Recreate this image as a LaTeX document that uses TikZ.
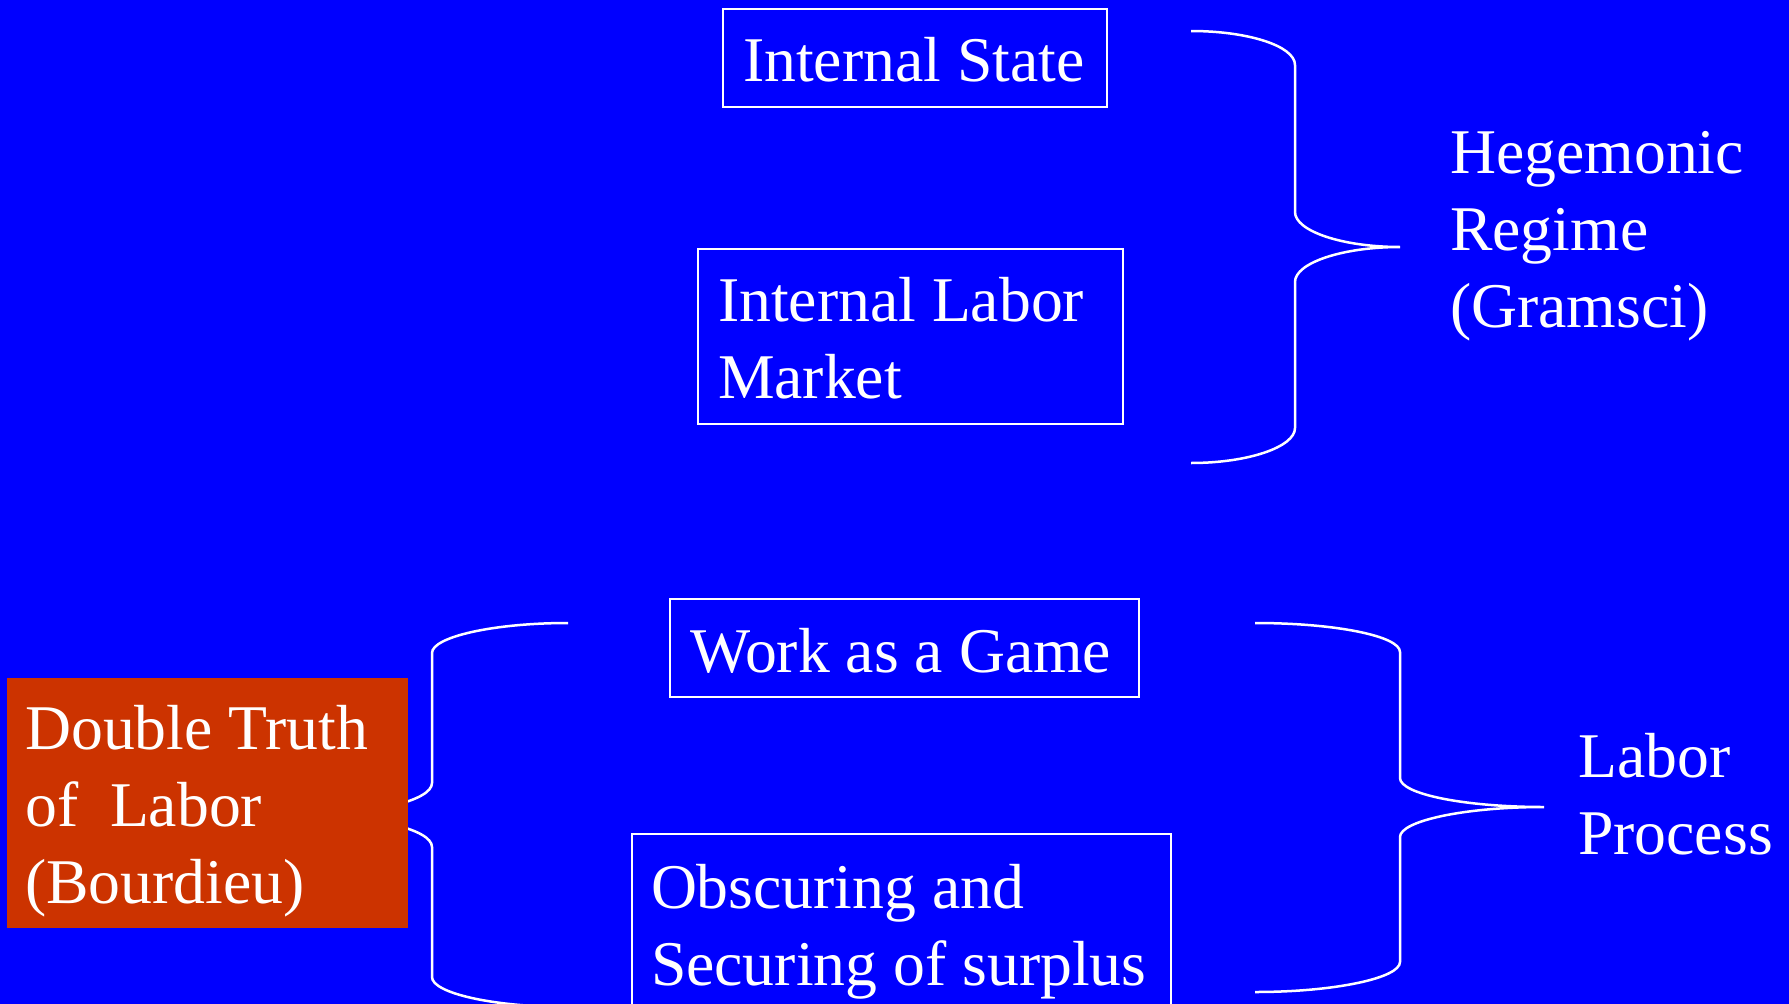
\documentclass[tikz,border=0pt]{standalone}
\usepackage{fontspec}
\setmainfont{Liberation Serif}
\definecolor{bg}{RGB}{0,0,255}
\definecolor{redbox}{RGB}{204,51,0}
\begin{document}
\begin{tikzpicture}[x=1pt,y=-1pt,
  txt/.style={text=white, font=\fontsize{63.7}{77}\selectfont, inner sep=0pt, anchor=north west},
  box/.style={txt, draw=white, line width=2pt},
  redfill/.style={txt, fill=redbox},
  brace/.style={draw=white, line width=2.5pt}]
\fill[bg] (0,0) rectangle (1789,1004);
\useasboundingbox (0,0) rectangle (1789,1004);
\clip (0,0) rectangle (1789,1004);

% braces
\draw[brace] (1191,31) .. controls (1248,31) and (1295,46) .. (1295,65) -- (1295,212)
  .. controls (1295,231) and (1342,247) .. (1400,247)
  .. controls (1342,247) and (1295,263) .. (1295,282) -- (1295,428)
  .. controls (1295,447) and (1248,463) .. (1191,463);
\draw[brace] (1255,623) .. controls (1335,623) and (1400,636) .. (1400,652) -- (1400,778)
  .. controls (1400,794) and (1464,807) .. (1544,807)
  .. controls (1464,807) and (1400,821) .. (1400,837) -- (1400,962)
  .. controls (1400,978) and (1335,992) .. (1255,992);
\draw[brace] (568,623) .. controls (493,623) and (432,637) .. (432,653) -- (432,783)
  .. controls (432,801) and (371,815) .. (296,815)
  .. controls (371,815) and (432,829) .. (432,847) -- (432,977)
  .. controls (432,993) and (493,1007) .. (568,1007);

% boxes
\node[box, text height=72pt, text depth=26pt] (is) at (722,8)
  {\makebox[384pt][l]{\hspace*{20pt}Internal State}};
\node[box, text height=72pt, text depth=103pt] (ilm) at (697,248)
  {\makebox[425pt][l]{\hspace*{20pt}\vtop{\hbox{Internal Labor}\hbox{Market}}}};
\node[box, text height=73pt, text depth=25pt] (wag) at (669,598)
  {\makebox[469pt][l]{\hspace*{20pt}Work as a Game}};
\node[box, text height=74pt, text depth=126pt] (obs) at (631,833)
  {\makebox[539pt][l]{\hspace*{19pt}\vtop{\hbox{Obscuring and}\hbox{Securing of surplus}}}};
\node[redfill, text height=71pt, text depth=179pt] (dt) at (7,678)
  {\makebox[401pt][l]{\hspace*{18pt}\vtop{\hbox{Double Truth}\hbox{of\ \ Labor}\hbox{(Bourdieu)}}}};

% labels
\node[txt, anchor=base west] (heg) at (1450,173)
  {\vtop{\hbox{Hegemonic}\hbox{Regime}\hbox{(Gramsci)}}};
\node[txt, anchor=base west] (lp) at (1578,777)
  {\vtop{\hbox{Labor}\hbox{Process}}};
\end{tikzpicture}
\end{document}
